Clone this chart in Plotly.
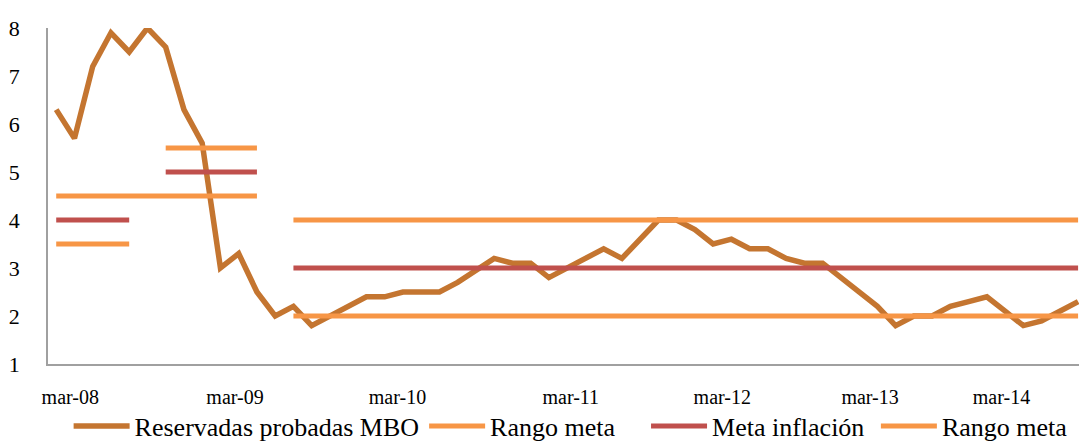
import plotly.graph_objects as go

# Data (index-based category positions)
reservas = [6.3, 5.7, 7.2, 7.9, 7.5, 8.0, 7.6, 6.3, 5.6, 3.0,
            3.3, 2.5, 2.0, 2.2, 1.8, 2.0, 2.2, 2.4, 2.4, 2.5,
            2.5, 2.5, 2.7, 2.95, 3.2, 3.1, 3.1, 2.8, 3.0, 3.2,
            3.4, 3.2, 3.6, 4.0, 4.0, 3.8, 3.5, 3.6, 3.4, 3.4,
            3.2, 3.1, 3.1, 2.8, 2.5, 2.2, 1.8, 2.0, 2.0, 2.2,
            2.3, 2.4, 2.1, 1.8, 1.9, 2.1, 2.3]
n = len(reservas)
rango_a = [4.5] * 12 + [None] + [4.0] * (n - 13)
meta = [4.0] * 5 + [None] + [5.0] * 6 + [None] + [3.0] * (n - 13)
rango_b = [3.5] * 5 + [None] + [5.5] * 6 + [None] + [2.0] * (n - 13)

tick_pos = [0.77, 9.8, 18.7, 28.2, 36.5, 44.6, 51.8]
tick_text = ["mar-08", "mar-09", "mar-10", "mar-11", "mar-12", "mar-13", "mar-14"]
y_ticks = [1, 2, 3, 4, 5, 6, 7, 8]

x = list(range(n))
FONT = "Liberation Serif, Times New Roman, serif"

fig = go.Figure()
fig.add_trace(go.Scatter(x=x, y=reservas, mode="lines", name="Reservadas probadas MBO",
                         line=dict(color="#C47530", width=5.5, shape="linear"),
                         connectgaps=False))
fig.add_trace(go.Scatter(x=x, y=rango_a, mode="lines", name="Rango meta\u00a0\u00a0\u00a0\u00a0",
                         line=dict(color="#F79646", width=5), connectgaps=False))
fig.add_trace(go.Scatter(x=x, y=meta, mode="lines", name="Meta inflación\u00a0",
                         line=dict(color="#C0504D", width=5), connectgaps=False))
fig.add_trace(go.Scatter(x=x, y=rango_b, mode="lines", name="Rango meta",
                         line=dict(color="#F79646", width=5), connectgaps=False))

fig.update_layout(
    width=1079, height=444,
    margin=dict(l=48, r=0, t=28, b=80, autoexpand=False),
    paper_bgcolor="white", plot_bgcolor="white",
    font=dict(family=FONT, color="black"),
    showlegend=True,
    legend=dict(orientation="h", x=0.02, xanchor="left", y=-0.185, yanchor="middle",
                font=dict(size=26, family=FONT), itemwidth=56,
                bgcolor="rgba(0,0,0,0)"),
    xaxis=dict(range=[-0.45, 56.05], tickmode="array", tickvals=tick_pos, ticktext=tick_text,
               showgrid=False, zeroline=False, showline=True, linecolor="#A0A0A0", linewidth=1.5,
               ticks="", tickfont=dict(size=20, family=FONT), ticklabelstandoff=14,
               automargin=False),
    yaxis=dict(range=[1, 8], tickmode="array", tickvals=y_ticks,
               showgrid=False, zeroline=False, showline=True, linecolor="#A0A0A0", linewidth=1.5,
               ticks="", tickfont=dict(size=22, family=FONT), ticklabelstandoff=22,
               automargin=False),
)

fig.write_html("out.html")
